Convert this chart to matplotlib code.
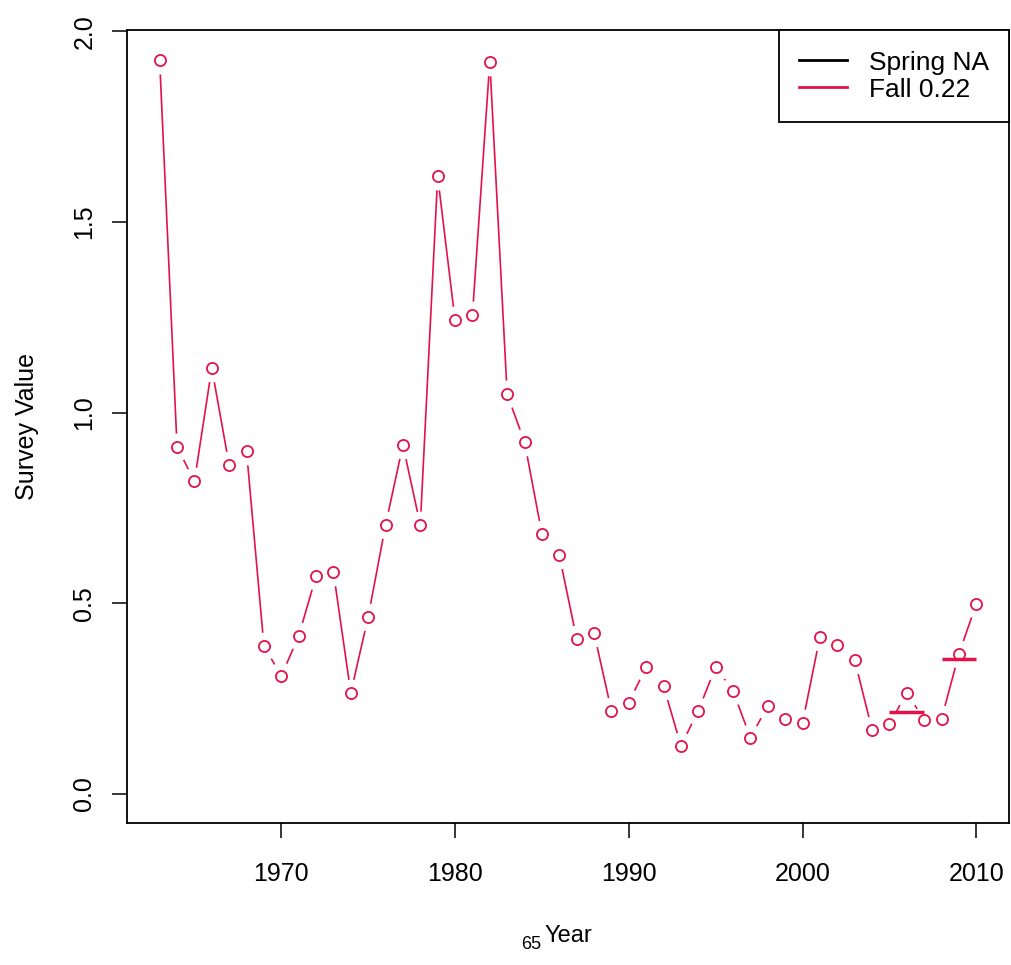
import numpy as np
import matplotlib.pyplot as plt

plt.rcParams['font.family'] = ['Liberation Sans', 'DejaVu Sans']

# Fall survey index by year
years = [1963, 1964, 1965, 1966, 1967, 1968, 1969, 1970, 1971, 1972,
         1973, 1974, 1975, 1976, 1977, 1978, 1979, 1980, 1981, 1982,
         1983, 1984, 1985, 1986, 1987, 1988, 1989, 1990, 1991, 1992,
         1993, 1994, 1995, 1996, 1997, 1998, 1999, 2000, 2001, 2002,
         2003, 2004, 2005, 2006, 2007, 2008, 2009, 2010]
fall = [1.924, 0.910, 0.820, 1.117, 0.862, 0.899, 0.388, 0.309, 0.414, 0.571,
        0.582, 0.265, 0.464, 0.705, 0.915, 0.705, 1.620, 1.242, 1.256, 1.921,
        1.048, 0.923, 0.682, 0.626, 0.406, 0.422, 0.218, 0.239, 0.333, 0.283,
        0.126, 0.218, 0.333, 0.270, 0.147, 0.231, 0.197, 0.186, 0.412, 0.390,
        0.351, 0.168, 0.183, 0.265, 0.194, 0.197, 0.367, 0.498]

# 3-year means drawn as horizontal bars
mean_x0 = [2005, 2008]
mean_x1 = [2007, 2010]
mean_val = [0.214, 0.354]

legend_labels = ["Spring NA", "Fall 0.22"]

RED = "#E3124A"

fig = plt.figure(figsize=(10.12, 9.65), dpi=100)
ax = fig.add_axes([0.1255, 0.147, 0.8715, 0.822])

# type="b" style: line, white gap around points, open circles
ax.plot(years, fall, color=RED, lw=1.2, zorder=1)
ax.plot(years, fall, linestyle="none", marker="o", markersize=20,
        markerfacecolor="white", markeredgecolor="none", zorder=2)
ax.plot(years, fall, linestyle="none", marker="o", markersize=8,
        markerfacecolor="white", markeredgecolor=RED, markeredgewidth=1.3,
        zorder=3)

ax.hlines(mean_val, mean_x0, mean_x1, color=RED, lw=2.5, zorder=4)

# legend handles
ax.plot([], [], color="black", lw=2, label=legend_labels[0])
ax.plot([], [], color=RED, lw=2, label=legend_labels[1])

ax.set_xlim(1961.12, 2011.88)
ax.set_ylim(-0.077, 2.004)

ax.set_xticks([1970, 1980, 1990, 2000, 2010])
ax.set_yticks([0.0, 0.5, 1.0, 1.5, 2.0])
ax.set_yticklabels(["0.0", "0.5", "1.0", "1.5", "2.0"], rotation=90,
                   va="center")
ax.tick_params(direction="out", length=11, width=1.1, labelsize=18,
               color="black")
ax.tick_params(axis="x", pad=17)
ax.tick_params(axis="y", pad=11)

for sp in ax.spines.values():
    sp.set_linewidth(1.3)

ax.set_xlabel("Year", fontsize=17, labelpad=28)
ax.set_ylabel("Survey Value", fontsize=18, labelpad=24)

fig.text(0.525, 0.0125, "65", fontsize=13, ha="center", va="bottom")

leg = ax.legend(loc="upper right", borderaxespad=0, fancybox=False,
                edgecolor="black", framealpha=1, fontsize=19,
                handlelength=1.8, handletextpad=0.85, borderpad=0.75,
                labelspacing=0.1, handleheight=0.9)
leg.get_frame().set_linewidth(1.3)

fig.savefig("out.png", dpi=100)
